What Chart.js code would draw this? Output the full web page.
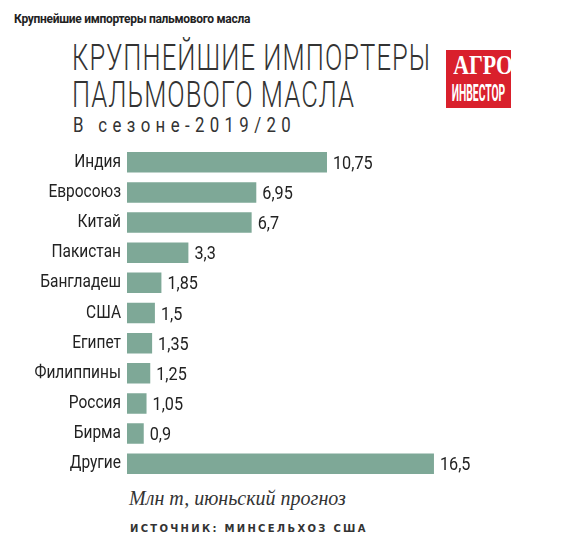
<!DOCTYPE html>
<html><head><meta charset="utf-8">
<script src="https://cdn.jsdelivr.net/npm/chart.js@4"></script>
<style>
body{margin:0;background:#fff;width:578px;height:556px;position:relative;font-family:Roboto,sans-serif;overflow:hidden}
.t{position:absolute;white-space:nowrap}
</style></head><body>
<div class="t" style="left:14px;top:12px;font:bold 12px Roboto,sans-serif;color:#222;letter-spacing:-0.3px">Крупнейшие импортеры пальмового масла</div>
<div class="t" style="left:72px;top:40px;font-size:36px;font-weight:300;line-height:37px;color:#333;letter-spacing:1.5px;transform:scaleX(0.71);transform-origin:left">КРУПНЕЙШИЕ ИМПОРТЕРЫ<br>ПАЛЬМОВОГО МАСЛА</div>
<div class="t" style="left:73px;top:113px;font:21px Roboto,sans-serif;color:#333;letter-spacing:6.7px;transform:scaleX(0.8);transform-origin:left">В сезоне-2019/20</div>
<div style="position:absolute;left:446px;top:50px;width:65px;height:58px;background:#d9202c;color:#fff;overflow:hidden">
<div class="t" style="left:0;width:65px;top:1px;text-align:center;font:bold 28px 'Liberation Serif',serif;line-height:28px;transform:scaleX(0.78)">АГРО</div>
<div class="t" style="left:-30px;width:125px;top:30px;text-align:center;font:bold 24px Roboto,sans-serif;line-height:26px;transform:scaleX(0.43)">ИНВЕСТОР</div></div>
<div class="t" style="left:129px;top:487px;font:italic 20px 'Liberation Serif',serif;color:#333">Млн т, июньский прогноз</div>
<div class="t" style="left:130px;top:523px;font:bold 10px 'DejaVu Sans',sans-serif;color:#333;letter-spacing:2.3px">ИСТОЧНИК: МИНСЕЛЬХОЗ США</div>
<canvas id="c" width="578" height="364" style="position:absolute;left:0;top:131px;width:578px;height:364px"></canvas>
<script>
const categories=["Индия","Евросоюз","Китай","Пакистан","Бангладеш","США","Египет","Филиппины","Россия","Бирма","Другие"];
const values=[10.75,6.95,6.7,3.3,1.85,1.5,1.35,1.25,1.05,0.9,16.5];
const labels=["10,75","6,95","6,7","3,3","1,85","1,5","1,35","1,25","1,05","0,9","16,5"];
const font="Roboto, sans-serif";
const valPlugin={id:'v',afterDatasetsDraw(ch){const ctx=ch.ctx;const m=ch.getDatasetMeta(0);ctx.save();ctx.font="18px "+font;ctx.fillStyle="#222";ctx.textBaseline="middle";
m.data.forEach((b,i)=>{ctx.save();ctx.translate(b.x+6,b.y+2);ctx.scale(0.9,1);ctx.textAlign='left';ctx.fillText(labels[i],0,0);ctx.restore();
ctx.save();ctx.translate(121,b.y);ctx.scale(0.86,1);ctx.textAlign='right';ctx.fillText(ch.data.labels[i],0,0);ctx.restore();});ctx.restore();}};
new Chart(document.getElementById('c'),{type:'bar',data:{labels:categories,datasets:[{data:values,backgroundColor:'#7ea897',barPercentage:0.68,categoryPercentage:1}]},
options:{indexAxis:'y',responsive:false,animation:false,layout:{padding:{right:38,top:0,bottom:0,left:0}},
plugins:{legend:{display:false},tooltip:{enabled:false}},
scales:{x:{display:false,min:0,max:22.2},y:{grid:{display:false},border:{display:false},ticks:{color:'rgba(0,0,0,0)',font:{size:17,family:font},padding:6},afterFit(s){s.width=127;}}}},plugins:[valPlugin]});
</script></body></html>
